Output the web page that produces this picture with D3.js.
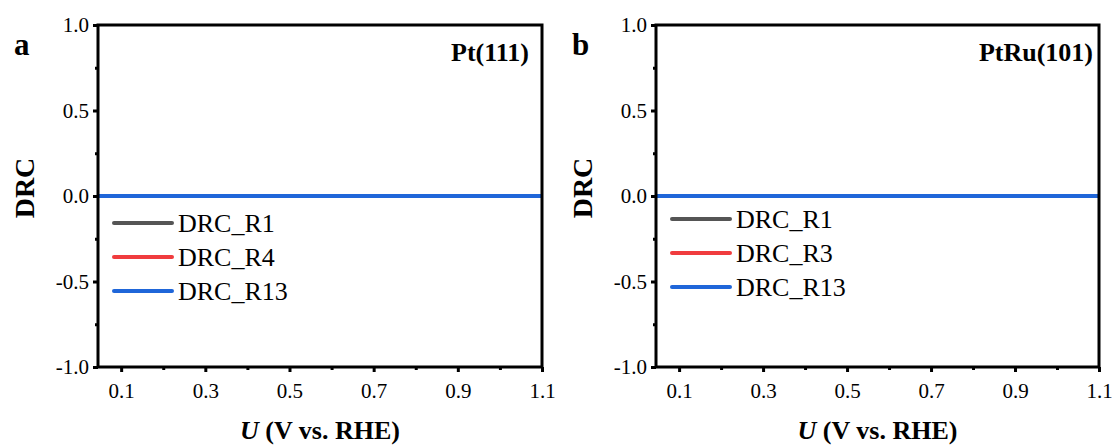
<!DOCTYPE html>
<html>
<head>
<meta charset="utf-8">
<script src="https://cdn.jsdelivr.net/npm/d3@7"></script>
<style>
  body { margin: 0; background: #fff; }
  svg text { font-family: "Liberation Serif", "Times New Roman", serif; }
</style>
</head>
<body>
<div id="graph"></div>
<script>
// potential sweep (V vs. RHE)
const U = [0.045, 0.1, 0.2, 0.3, 0.4, 0.5, 0.6, 0.7, 0.8, 0.9, 1.0, 1.1];

// panel a, Pt(111)
const ptNames = ["DRC_R1", "DRC_R4", "DRC_R13"];
const ptR1  = [0, 0, 0, 0, 0, 0, 0, 0, 0, 0, 0, 0];
const ptR4  = [0, 0, 0, 0, 0, 0, 0, 0, 0, 0, 0, 0];
const ptR13 = [0, 0, 0, 0, 0, 0, 0, 0, 0, 0, 0, 0];

// panel b, PtRu(101)
const ptruNames = ["DRC_R1", "DRC_R3", "DRC_R13"];
const ptruR1  = [0, 0, 0, 0, 0, 0, 0, 0, 0, 0, 0, 0];
const ptruR3  = [0, 0, 0, 0, 0, 0, 0, 0, 0, 0, 0, 0];
const ptruR13 = [0, 0, 0, 0, 0, 0, 0, 0, 0, 0, 0, 0];

const xTicks = [0.1, 0.3, 0.5, 0.7, 0.9, 1.1];
const xMinor = [0.2, 0.4, 0.6, 0.8, 1.0];
const yTicks = [-1.0, -0.5, 0.0, 0.5, 1.0];
const yMinor = [-0.75, -0.25, 0.25, 0.75];

const colors = ["#555555", "#f03c3e", "#1f66d9"];

const width = 1115;
const height = 445;

const svg = d3.select("#graph")
              .append("svg")
              .attr("width", width)
              .attr("height", height);

const panels = [
  { letter: "a", title: "Pt(111)", names: ptNames, series: [ptR1, ptR4, ptR13],
    left: 98, right: 542, legendY: 223, letterX: 14, titleX: 529 },
  { letter: "b", title: "PtRu(101)", names: ptruNames, series: [ptruR1, ptruR3, ptruR13],
    left: 656, right: 1099, legendY: 219, letterX: 572, titleX: 1093 }
];

const plotTop = 25;
const plotBottom = 367;
const fmt = d => d.toFixed(1);

panels.forEach(p => {
  const xScale = d3.scaleLinear().domain([0.045, 1.1]).range([p.left, p.right]);
  const yScale = d3.scaleLinear().domain([-1, 1]).range([plotBottom, plotTop]);

  const g = svg.append("g");

  // series lines (draw in order so blue ends on top)
  const line = d3.line()
                 .x((d, i) => xScale(U[i]))
                 .y(d => yScale(d));

  p.series.forEach((s, k) => {
    g.append("path")
     .datum(s)
     .attr("d", line)
     .attr("fill", "none")
     .attr("stroke", colors[k])
     .attr("stroke-width", 4);
  });

  // axes
  const xAxis = d3.axisBottom(xScale).tickValues(xTicks).tickSize(5).tickPadding(11)
                  .tickFormat(fmt);
  const yAxis = d3.axisLeft(yScale).tickValues(yTicks).tickSize(5).tickPadding(4)
                  .tickFormat(fmt);

  g.append("g")
   .attr("transform", `translate(0, ${plotBottom})`)
   .call(xAxis);
  const gy = g.append("g")
              .attr("transform", `translate(${p.left}, 0)`)
              .call(yAxis);

  g.append("g")
   .attr("transform", `translate(0, ${plotBottom})`)
   .call(d3.axisBottom(xScale).tickValues(xMinor).tickSize(3).tickFormat(""));
  g.append("g")
   .attr("transform", `translate(${p.left}, 0)`)
   .call(d3.axisLeft(yScale).tickValues(yMinor).tickSize(3).tickFormat(""));

  g.selectAll(".domain").remove();
  g.selectAll(".tick line").attr("stroke", "#000").attr("stroke-width", 3);
  g.selectAll(".tick text")
   .style("font-size", "21px")
   .attr("fill", "#000");
  gy.selectAll(".tick text").attr("x", -9);

  // frame
  g.append("rect")
   .attr("x", p.left)
   .attr("y", plotTop)
   .attr("width", p.right - p.left)
   .attr("height", plotBottom - plotTop)
   .attr("fill", "none")
   .attr("stroke", "#000")
   .attr("stroke-width", 3);

  // legend
  p.names.forEach((n, k) => {
    const ly = p.legendY + k * 34;
    g.append("line")
     .attr("x1", p.left + 16)
     .attr("x2", p.left + 74)
     .attr("y1", ly)
     .attr("y2", ly)
     .attr("stroke", colors[k])
     .attr("stroke-width", 4)
     .attr("stroke-linecap", "round");
    g.append("text")
     .attr("x", p.left + 80)
     .attr("y", ly)
     .attr("dy", "0.35em")
     .style("font-size", "26px")
     .text(n);
  });

  // panel letter & title
  g.append("text")
   .attr("x", p.letterX)
   .attr("y", 55)
   .style("font-size", "31px")
   .style("font-weight", "bold")
   .text(p.letter);

  g.append("text")
   .attr("x", p.titleX)
   .attr("y", 61)
   .style("text-anchor", "end")
   .style("font-size", "26px")
   .style("font-weight", "bold")
   .text(p.title);

  // axis titles
  const xt = g.append("text")
              .attr("x", (p.left + p.right) / 2)
              .attr("y", 439)
              .style("text-anchor", "middle")
              .style("font-size", "26px")
              .style("font-weight", "bold");
  xt.append("tspan").style("font-style", "italic").text("U");
  xt.append("tspan").text(" (V vs. RHE)");

  g.append("text")
   .attr("transform", `translate(${p.left - 64}, 188) rotate(-90)`)
   .style("text-anchor", "middle")
   .style("font-size", "28px")
   .style("font-weight", "bold")
   .text("DRC");
});
</script>
</body>
</html>
